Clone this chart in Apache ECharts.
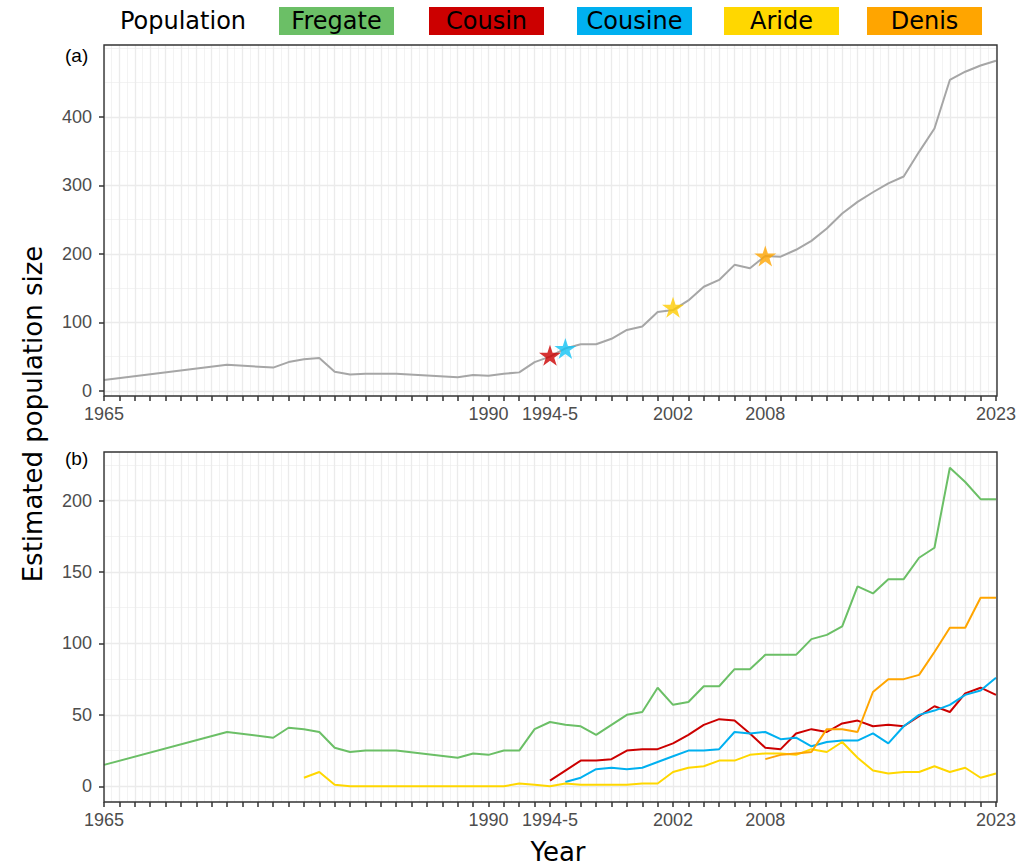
<!DOCTYPE html>
<html>
<head>
<meta charset="utf-8">
<title>Estimated population size</title>
<script src="https://cdn.jsdelivr.net/npm/echarts@6/dist/echarts.min.js"></script>
<style>
  html, body { margin: 0; padding: 0; background: #fff; }
  #chart { width: 1019px; height: 867px; }
</style>
</head>
<body>
<div id="chart"></div>
<script>
// survey years (no counts for 1966-72, 1974-75, 1985-87)
const years = [1965, 1973, 1976, 1977, 1978, 1979, 1980, 1981, 1982, 1983, 1984,
  1988, 1989, 1990, 1991, 1992, 1993, 1994, 1995, 1996, 1997, 1998, 1999, 2000,
  2001, 2002, 2003, 2004, 2005, 2006, 2007, 2008, 2009, 2010, 2011, 2012, 2013,
  2014, 2015, 2016, 2017, 2018, 2019, 2020, 2021, 2022, 2023]

const total = [16, 38, 34, 42, 46, 48, 28, 24, 25, 25, 25,
  20, 23, 22, 25, 27, 42, 50, 62, 68, 68, 76, 89, 94,
  115, 118, 132, 152, 162, 184, 179, 197, 196, 206, 219, 237, 259,
  276, 290, 303, 313, 349, 383, 454, 466, 475, 482]

const fregate = [15, 38, 34, 41, 40, 38, 27, 24, 25, 25, 25,
  20, 23, 22, 25, 25, 40, 45, 43, 42, 36, 43, 50, 52,
  69, 57, 59, 70, 70, 82, 82, 92, 92, 92, 103, 106, 112,
  140, 135, 145, 145, 160, 167, 223, 213, 201, 201]

const cousin = [null, null, null, null, null, null, null, null, null, null, null,
  null, null, null, null, null, null, 4, 11, 18, 18, 19, 25, 26,
  26, 30, 36, 43, 47, 46, 37, 27, 26, 37, 40, 38, 44,
  46, 42, 43, 42, 49, 56, 52, 65, 69, 64]

const cousine = [null, null, null, null, null, null, null, null, null, null, null,
  null, null, null, null, null, null, null, 3, 6, 12, 13, 12, 13,
  17, 21, 25, 25, 26, 38, 37, 38, 33, 34, 28, 31, 32,
  32, 37, 30, 42, 50, 53, 57, 64, 67, 76]

const aride = [null, null, null, null, 6, 10, 1, 0, 0, 0, 0,
  0, 0, 0, 0, 2, 1, 0, 2, 1, 1, 1, 1, 2,
  2, 10, 13, 14, 18, 18, 22, 23, 23, 22, 26, 24, 31,
  20, 11, 9, 10, 10, 14, 10, 13, 6, 9]

const denis = [null, null, null, null, null, null, null, null, null, null, null,
  null, null, null, null, null, null, null, null, null, null, null, null, null,
  null, null, null, null, null, null, null, 19, 22, 23, 24, 40, 40,
  38, 66, 75, 75, 78, 94, 111, 111, 132, 132]

// translocation years, marked on the total curve
const starIslands = ['Cousin', 'Cousine', 'Aride', 'Denis']
const starYears = [1994, 1995, 2002, 2008]
const starValues = [52, 62, 122, 197]

const islands = ['Fregate', 'Cousin', 'Cousine', 'Aride', 'Denis']
const islandValues = [fregate, cousin, cousine, aride, denis]

const labelYears = [1965, 1990, 1994, 2002, 2008, 2023]
const labelText = ['1965', '1990', '1994-5', '2002', '2008', '2023']
const yTicksA = [0, 100, 200, 300, 400]
const yMinorA = [50, 150, 250, 350, 450, 500]
const yTicksB = [0, 50, 100, 150, 200]
const yMinorB = [25, 75, 125, 175, 225]

const colors = {
  Fregate: '#6BBF66',
  Cousin: '#CC0000',
  Cousine: '#00B0F0',
  Aride: '#FFD700',
  Denis: '#FFA500'
}
const starColors = {
  Cousin: '#CC0000',
  Cousine: '#12C3F5',
  Aride: '#FFCC00',
  Denis: '#FFA500'
}

const tickFont = 'Liberation Sans, Arial, Helvetica, sans-serif'
const titleFont = 'DejaVu Sans, Verdana, sans-serif'
const STAR = 'path://M50,0 L61.2,34.5 L97.6,34.5 L68.2,55.9 L79.4,90.5 L50,69.1 L20.6,90.5 L31.8,55.9 L2.4,34.5 L38.8,34.5 Z'

// panel boxes (left, top, width, height)
const panelA = [104, 45, 893, 351]
const panelB = [104, 452, 893, 350]

const pairs = (vals) => years.map((y, i) => [y, vals[i]]).filter((p) => p[1] !== null)

const xAxisFor = (gridIndex) => ({
  type: 'value',
  gridIndex,
  min: 1965,
  max: 2023,
  interval: 1,
  axisLine: { show: false, onZero: false },
  axisTick: { show: true, length: 5, lineStyle: { color: '#333', width: 1.5 } },
  axisLabel: {
    customValues: labelYears,
    formatter: (v) => labelText[labelYears.indexOf(v)] || '',
    fontSize: 18,
    fontFamily: tickFont,
    color: '#4d4d4d',
    margin: 9
  },
  splitLine: { show: true, lineStyle: { color: '#ebebeb', width: 1.3 } },
  minorTick: { show: false, splitNumber: 2 },
  minorSplitLine: { show: true, lineStyle: { color: '#ebebeb', width: 0.6 } }
})

const yMajor = (gridIndex, min, max, ticks) => ({
  type: 'value',
  gridIndex,
  min,
  max,
  axisLine: { show: false, onZero: false },
  axisTick: { show: true, customValues: ticks, length: 5, lineStyle: { color: '#333', width: 1.5 } },
  axisLabel: { customValues: ticks, fontSize: 18, fontFamily: tickFont, color: '#4d4d4d', margin: 12 },
  splitLine: { show: true, lineStyle: { color: '#ebebeb', width: 1.3 } }
})

const yMinor = (gridIndex, min, max, ticks) => ({
  type: 'value',
  gridIndex,
  min,
  max,
  position: 'right',
  axisLine: { show: false, onZero: false },
  axisTick: { show: false, customValues: ticks },
  axisLabel: { show: false },
  splitLine: { show: true, lineStyle: { color: '#ebebeb', width: 0.6 } }
})

const panelBorder = (p) => ({
  type: 'rect',
  z: 100,
  shape: { x: p[0], y: p[1], width: p[2], height: p[3] },
  style: { fill: 'none', stroke: '#333', lineWidth: 1.4 }
})

const legendBoxX = [279, 429, 577, 724, 867]
const legendGraphics = [{
  type: 'text', x: 183, y: 21,
  style: { text: 'Population', fontSize: 24, fontFamily: titleFont, fill: '#000', align: 'center', verticalAlign: 'middle' }
}]
islands.forEach((name, i) => {
  legendGraphics.push({
    type: 'rect',
    shape: { x: legendBoxX[i], y: 7, width: 115, height: 28 },
    style: { fill: colors[name] }
  })
  legendGraphics.push({
    type: 'text', x: legendBoxX[i] + 57.5, y: 21,
    style: { text: name, fontSize: 24, fontFamily: titleFont, fill: '#000', align: 'center', verticalAlign: 'middle' }
  })
})

const chart = echarts.init(document.getElementById('chart'), null, { renderer: 'svg' })

chart.setOption({
  animation: false,
  backgroundColor: '#fff',
  title: [
    { text: '(a)', left: 65, top: 46, padding: 0, textStyle: { fontSize: 19, fontWeight: 'normal', fontFamily: tickFont, color: '#000' } },
    { text: '(b)', left: 65, top: 449, padding: 0, textStyle: { fontSize: 19, fontWeight: 'normal', fontFamily: tickFont, color: '#000' } }
  ],
  grid: [
    { left: panelA[0], right: 22, top: panelA[1], height: panelA[3], show: true, borderWidth: 0, backgroundColor: '#fff' },
    { left: panelB[0], right: 22, top: panelB[1], height: panelB[3], show: true, borderWidth: 0, backgroundColor: '#fff' }
  ],
  xAxis: [xAxisFor(0), xAxisFor(1)],
  yAxis: [
    yMajor(0, -7.5, 505, yTicksA),
    yMinor(0, -7.5, 505, yMinorA),
    yMajor(1, -11, 234, yTicksB),
    yMinor(1, -11, 234, yMinorB)
  ],
  graphic: [
    ...legendGraphics,
    panelBorder(panelA),
    panelBorder(panelB),
    {
      type: 'text', x: 33, y: 414, rotation: Math.PI / 2,
      style: { text: 'Estimated population size', fontSize: 26, fontFamily: titleFont, fill: '#000', align: 'center', verticalAlign: 'middle' }
    },
    {
      type: 'text', x: 558, y: 852,
      style: { text: 'Year', fontSize: 26, fontFamily: titleFont, fill: '#000', align: 'center', verticalAlign: 'middle' }
    }
  ],
  series: [
    {
      name: 'Total',
      type: 'line',
      xAxisIndex: 0,
      yAxisIndex: 0,
      data: pairs(total),
      showSymbol: false,
      symbol: 'none',
      lineStyle: { color: '#a6a6a6', width: 2 }
    },
    {
      name: 'Translocation',
      type: 'scatter',
      xAxisIndex: 0,
      yAxisIndex: 0,
      symbol: STAR,
      symbolSize: [22, 21],
      data: starYears.map((y, i) => ({
        value: [y, starValues[i]],
        itemStyle: { color: starColors[starIslands[i]] }
      })),
      z: 5
    },
    ...islands.map((name, i) => ({
      name,
      type: 'line',
      xAxisIndex: 1,
      yAxisIndex: 2,
      data: pairs(islandValues[i]),
      showSymbol: false,
      symbol: 'none',
      lineStyle: { color: colors[name], width: 2 }
    }))
  ]
})
</script>
</body>
</html>
